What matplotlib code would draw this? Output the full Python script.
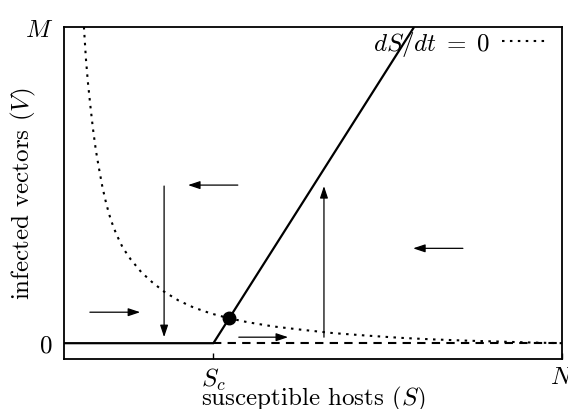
import numpy as np
import matplotlib
matplotlib.use('Agg')
import matplotlib.pyplot as plt

plt.rcParams['font.family'] = 'serif'
plt.rcParams['font.serif'] = ['cmr10']
plt.rcParams['mathtext.fontset'] = 'cm'
plt.rcParams['axes.unicode_minus'] = False
plt.rcParams['axes.formatter.use_mathtext'] = True

# S in units of N, V in units of M
s_c = 0.300
s_top = 0.703

# dS/dt = 0 nullcline
null_s = [0.040, 0.044, 0.048, 0.053, 0.058, 0.064, 0.070, 0.077, 0.085, 0.094,
          0.105, 0.118, 0.134, 0.155, 0.177, 0.201, 0.230, 0.260, 0.295, 0.331,
          0.370, 0.420, 0.480, 0.540, 0.608, 0.675, 0.741, 0.810, 0.876, 0.940, 1.000]
null_v = [1.000, 0.900, 0.825, 0.750, 0.680, 0.610, 0.555, 0.495, 0.440, 0.390,
          0.345, 0.302, 0.265, 0.225, 0.193, 0.163, 0.135, 0.113, 0.094, 0.079,
          0.066, 0.053, 0.042, 0.032, 0.024, 0.017, 0.012, 0.008, 0.005, 0.002, 0.000]

# stable branch (solid) and unstable branch (dashed)
solid_s = [0.0, s_c, s_top]
solid_v = [0.0, 0.0, 1.0]
dashed_s = [s_c, 1.0]
dashed_v = [0.0, 0.0]

eq_point = (0.331, 0.079)

# direction arrows: (start, end)
arrows = [
    ((0.349, 0.500), (0.249, 0.500)),
    ((0.201, 0.497), (0.201, 0.019)),
    ((0.052, 0.098), (0.153, 0.098)),
    ((0.351, 0.019), (0.450, 0.019)),
    ((0.522, 0.019), (0.522, 0.497)),
    ((0.801, 0.300), (0.701, 0.300)),
]

xticks = [s_c, 1.0]
xtick_labels = [r'$S_c$', r'$N$']
yticks = [0.0, 1.0]
ytick_labels = [r'$0$', r'$M$']


def main():
    fig = plt.figure(figsize=(5.68, 4.10), dpi=100)
    ax = fig.add_axes([64 / 568., 1 - 360 / 410., (562 - 64) / 568., (360 - 28) / 410.])

    ax.plot(null_s, null_v, color='k', lw=1.5, linestyle=(0, (1.2, 2.6)),
            label=r'$dS/dt\;=\;0$')
    ax.plot(solid_s, solid_v, color='k', lw=1.6, solid_capstyle='butt')
    ax.plot(dashed_s, dashed_v, color='k', lw=1.5, linestyle=(0, (4, 3)))
    ax.plot([eq_point[0]], [eq_point[1]], 'o', color='k', markersize=9)

    for start, end in arrows:
        ax.annotate('', xy=end, xytext=start,
                    arrowprops=dict(arrowstyle='-|>,head_length=0.45,head_width=0.15',
                                    mutation_scale=16, lw=0.9, color='k',
                                    shrinkA=0, shrinkB=0))

    ax.set_xlim(0, 1)
    ax.set_ylim(-0.05, 1.0)

    ax.set_xticks(xticks)
    ax.set_xticklabels(xtick_labels, fontsize=18)
    ax.set_yticks(yticks)
    ax.set_yticklabels(ytick_labels, fontsize=18)
    ax.tick_params(axis='x', direction='in', length=4, width=1, pad=5)
    ax.tick_params(axis='y', length=0, pad=8)

    for sp in ax.spines.values():
        sp.set_linewidth(1.3)

    ax.set_xlabel(r'susceptible hosts ($S$)', fontsize=18)
    ax.xaxis.set_label_coords(0.5, -0.074)
    ax.set_ylabel(r'infected vectors ($V$)', fontsize=18)
    ax.yaxis.set_label_coords(-0.052, 0.5)

    ax.legend(loc='upper right', bbox_to_anchor=(0.980, 1.018), frameon=False,
              markerfirst=False, fontsize=18, handlelength=1.7, borderaxespad=0,
              borderpad=0.3, handletextpad=0.5)

    fig.savefig('out.png', dpi=100)


if __name__ == '__main__':
    main()
